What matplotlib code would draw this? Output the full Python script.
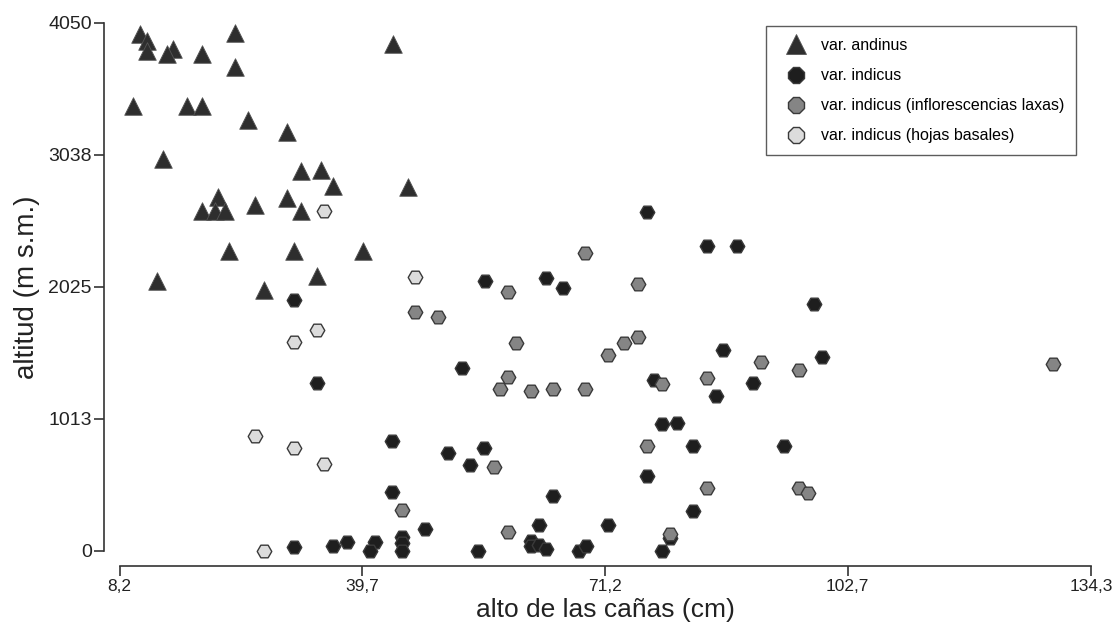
import matplotlib
matplotlib.use("Agg")
import matplotlib.pyplot as plt
from matplotlib.lines import Line2D

plt.rcParams["font.family"] = ["Liberation Sans", "DejaVu Sans"]

# var. andinus
andinus_x = [10.85, 11.8, 11.8, 15.1, 14.3, 18.9, 23.25, 23.25, 43.7, 10.0, 16.9, 18.9,
             24.9, 29.9, 13.9, 31.8, 34.3, 35.9, 45.7, 21.0, 18.9, 20.6, 21.9, 25.75,
             29.9, 31.8, 22.4, 30.8, 39.8, 33.8, 13.0, 26.9]
andinus_y = [3965, 3914, 3837, 3850, 3812, 3812, 3973, 3710, 3889, 3415, 3415, 3415,
             3306, 3211, 3007, 2912, 2925, 2802, 2789, 2713, 2610, 2610, 2610, 2654,
             2707, 2610, 2303, 2303, 2303, 2112, 2073, 2002]

# var. indicus
indicus_x = [30.8, 52.6, 33.8, 43.6, 50.8, 55.5, 53.7, 43.6, 47.8, 30.8, 35.9, 37.7,
             41.4, 40.7, 44.8, 44.8, 44.8, 54.7, 76.7, 84.5, 88.4, 55.6, 63.6, 65.7,
             86.5, 77.6, 85.6, 78.6, 80.6, 82.6, 76.7, 64.5, 82.6, 62.7, 71.6, 79.6,
             61.6, 61.6, 62.7, 63.6, 67.8, 68.7, 78.6, 98.4, 99.4, 90.4, 94.5]
indicus_y = [1925, 1401, 1289, 841, 752, 788, 662, 450, 169, 28, 41, 67,
             67, 0, 110, 59, 0, 0, 2598, 2342, 2342, 2071, 2096, 2015,
             1542, 1312, 1189, 974, 984, 808, 575, 424, 307, 199, 199, 97,
             75, 40, 46, 15, 0, 40, 0, 1892, 1486, 1286, 808]

# var. indicus (inflorescencias laxas)
laxas_x = [46.6, 49.6, 44.8, 68.6, 58.6, 75.5, 59.7, 71.6, 73.7, 75.5, 58.6, 57.6,
           61.6, 64.5, 68.6, 78.6, 84.5, 76.7, 56.8, 84.5, 58.6, 79.6, 91.5, 96.4,
           96.4, 97.5, 129.4]
laxas_y = [1831, 1792, 314, 2288, 1989, 2046, 1598, 1503, 1598, 1639, 1337, 1243,
           1230, 1243, 1243, 1281, 1325, 808, 647, 486, 143, 130, 1447, 1388,
           486, 443, 1432]

# var. indicus (hojas basales)
basales_x = [34.7, 46.6, 33.8, 30.8, 25.8, 30.8, 34.7, 26.9]
basales_y = [2605, 2104, 1695, 1605, 884, 788, 667, 0]

xticks = [8.2, 39.7, 71.2, 102.7, 134.3]
xticklabels = ["8,2", "39,7", "71,2", "102,7", "134,3"]
yticks = [0, 1013, 2025, 3038, 4050]

fig = plt.figure(figsize=(11.14, 6.35), dpi=100)
ax = fig.add_axes([0.1073, 0.1323, 0.8721, 0.8315])

hex_kw = dict(marker="H", s=110, linewidths=1.0, edgecolors="#3a3a3a", clip_on=False, zorder=3)
ax.scatter(andinus_x, andinus_y, marker="^", s=160, color="#2e2e2e",
           edgecolors="#555555", linewidths=0.6, clip_on=False, zorder=3)
ax.scatter(indicus_x, indicus_y, color="#1e1e1e", **hex_kw)
ax.scatter(laxas_x, laxas_y, color="#858585", **hex_kw)
ax.scatter(basales_x, basales_y, color="#dcdcdc", **hex_kw)

ax.set_xlim(8.2, 134.3)
ax.set_ylim(0, 4050)
ax.set_xticks(xticks)
ax.set_xticklabels(xticklabels)
ax.set_yticks(yticks)
ax.set_yticklabels([str(v) for v in yticks])
ax.tick_params(axis="x", labelsize=12.5)
ax.tick_params(axis="y", labelsize=14)

for side in ["top", "right"]:
    ax.spines[side].set_visible(False)
for side in ["left", "bottom"]:
    ax.spines[side].set_position(("outward", 11))
    ax.spines[side].set_linewidth(1.2)
    ax.spines[side].set_color("#333333")
ax.tick_params(direction="out", length=7, width=1.2, color="#333333", labelcolor="#222222", pad=2)

ax.set_xlabel("alto de las cañas (cm)", fontsize=19, color="#222222", labelpad=3)
ax.set_ylabel("altitud (m s.m.)", fontsize=20, color="#222222", labelpad=6)

handles = [
    Line2D([], [], ls="none", marker="^", ms=14, mfc="#2e2e2e", mec="#555555", mew=0.6),
    Line2D([], [], ls="none", marker="8", ms=12, mfc="#1e1e1e", mec="#3a3a3a", mew=1.0),
    Line2D([], [], ls="none", marker="8", ms=12, mfc="#858585", mec="#3a3a3a", mew=1.0),
    Line2D([], [], ls="none", marker="8", ms=12, mfc="#dcdcdc", mec="#3a3a3a", mew=1.0),
]
labels = ["var. andinus", "var. indicus", "var. indicus (inflorescencias laxas)",
          "var. indicus (hojas basales)"]
leg = fig.legend(handles, labels, loc="upper left", bbox_to_anchor=(766 / 1114, 1 - 26 / 635),
                 fontsize=11.5, frameon=True, fancybox=False, edgecolor="#333333",
                 borderpad=0.75, labelspacing=0.95, handletextpad=0.5, borderaxespad=0,
                 handlelength=2.2)
leg.get_frame().set_linewidth(1.0)

fig.savefig("out.png", dpi=100)
